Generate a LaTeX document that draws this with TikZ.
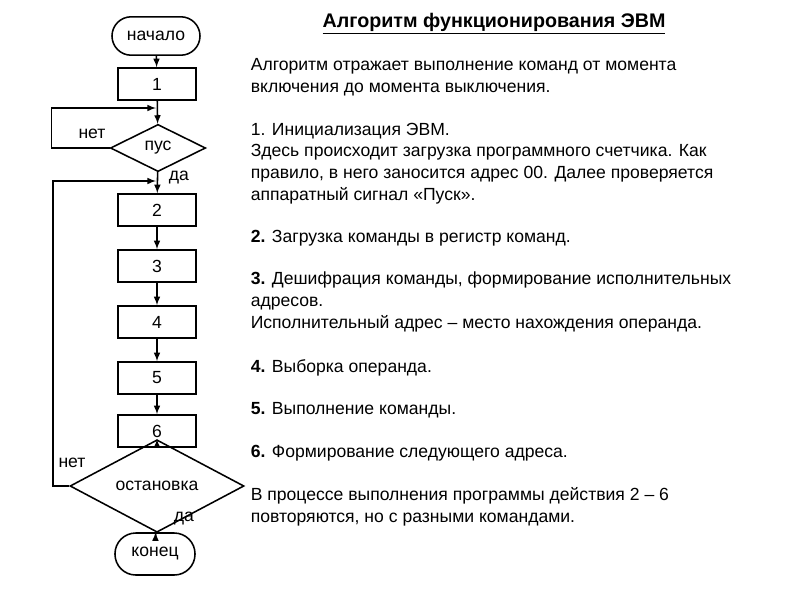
\documentclass[tikz,border=0pt]{standalone}
\usepackage{fontspec}
\setmainfont{Liberation Sans}
\usetikzlibrary{shapes.geometric}
\begin{document}
\begin{tikzpicture}[x=0.025cm,y=-0.025cm,line width=1.1pt]
    \tikzstyle{every node}=[font=\fontsize{12.5}{15.4}\selectfont]
    \tikzstyle{term}=[draw,rectangle,rounded corners=0.48cm,minimum height=0.96cm,inner sep=0pt]
    \tikzstyle{op}=[draw,rectangle,minimum width=1.95cm,minimum height=0.8cm,inner sep=0pt]
    \tikzstyle{cond}=[draw,diamond,inner sep=0pt]
    \tikzstyle{para}=[anchor=base west,align=left,inner sep=0pt]
    \useasboundingbox (0,0) rectangle (800,600);
    \draw (156,36) node[term,minimum width=2.2cm] (0) {начало};
    \draw (157,84) node[op] (1) {1};
    \draw (158,148) node[cond,minimum width=2.38cm,minimum height=1.18cm] (p) {пус};
    \draw (157,210) node[op] (2) {2};
    \draw (157,266) node[op] (3) {3};
    \draw (157,322) node[op] (4) {4};
    \draw (157,378) node[op] (5) {5};
    \draw (157,431) node[op] (6) {6};
    \draw (157,486) node[cond,minimum width=4.35cm,minimum height=1.4cm] (s) {остановка};
    \draw (155,554) node[term,minimum width=2.0cm,minimum height=1.05cm,rounded corners=0.52cm] (e) {конец};
    \coordinate (c1) at (156,108);
    \coordinate (c2) at (156,181);
    \draw[-latex] (0) -- (1);
    \draw[-latex] (1) -- (p);
    \draw[-latex] (p) -- (2);
    \draw[-latex] (2) -- (3);
    \draw[-latex] (3) -- (4);
    \draw[-latex] (4) -- (5);
    \draw[-latex] (5) -- (6);
    \draw[-latex] (6) -- (s);
    \draw[-latex] (s) -- (e);
    \draw[-latex] (p.west) -- ++(-58,0) |- (c1);
    \draw[-latex] (s.west) -- ++(-16,0) |- (c2);
    \draw (92,134) node (n1) {нет};
    \draw (179,178) node (d1) {да};
    \draw (72,463) node (n2) {нет};
    \draw (184,519) node (d2) {да};
    \draw (494,24) node[font=\fontsize{14}{16}\selectfont\bfseries] (t) {\underline{Алгоритм функционирования ЭВМ}};
    \draw (250,92) node[para] (a) {Алгоритм отражает выполнение команд от момента\\включения до момента выключения.};
    \draw (250,200) node[para] (b) {1. Инициализация ЭВМ.\\Здесь происходит загрузка программного счетчика. Как\\правило, в него заносится адрес 00. Далее проверяется\\аппаратный сигнал «Пуск».};
    \draw (250,242) node[para] (c) {\textbf{2.} Загрузка команды в регистр команд.};
    \draw (250,328) node[para] (d) {\textbf{3.} Дешифрация команды, формирование исполнительных\\адресов.\\Исполнительный адрес – место нахождения операнда.};
    \draw (250,372) node[para] (f) {\textbf{4.} Выборка операнда.};
    \draw (250,414) node[para] (g) {\textbf{5.} Выполнение команды.};
    \draw (250,457) node[para] (h) {\textbf{6.} Формирование следующего адреса.};
    \draw (250,522) node[para] (k) {В процессе выполнения программы действия 2 – 6\\повторяются, но с разными командами.};
\end{tikzpicture}
\end{document}
